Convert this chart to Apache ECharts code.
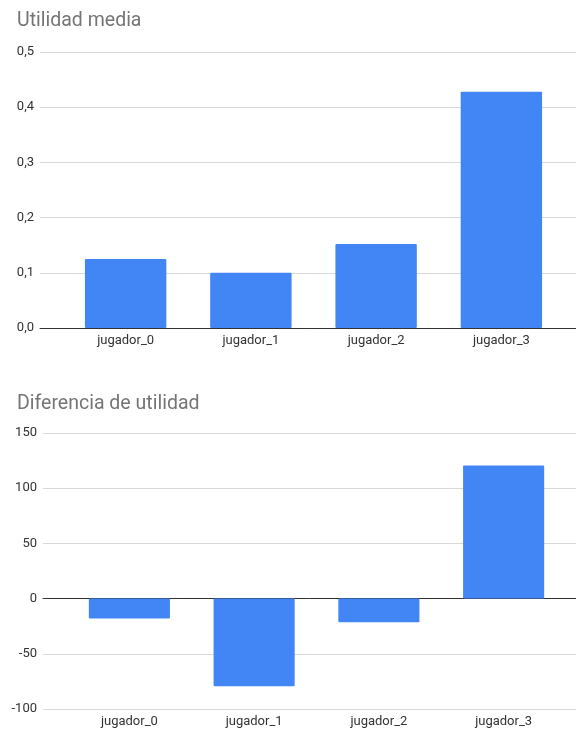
<!DOCTYPE html>
<html>
<head>
<meta charset="utf-8">
<script src="https://cdn.jsdelivr.net/npm/echarts@6/dist/echarts.min.js"></script>
<style>
  html, body { margin: 0; padding: 0; background: #fff; }
  #chart { width: 576px; height: 731px; }
</style>
</head>
<body>
<div id="chart"></div>
<script>
// Players and their results
const players = ['jugador_0', 'jugador_1', 'jugador_2', 'jugador_3'];
const utilidadMedia = [0.125, 0.10, 0.152, 0.428];
const diferenciaUtilidad = [-18, -79.5, -21.5, 120.5];

// Axis ranges and tick steps
const mediaAxis = { min: 0, max: 0.5, interval: 0.1 };
const diferenciaAxis = { min: -100, max: 150, interval: 50 };

const titles = ['Utilidad media', 'Diferencia de utilidad'];

const BAR_COLOR = '#4285F4';
const FONT = 'Roboto, Arial, sans-serif';
const LABEL_STYLE = { color: '#333', fontSize: 13, fontFamily: FONT };
const TITLE_STYLE = { color: '#757575', fontSize: 19.5, fontWeight: 'normal', fontFamily: FONT };
const comma = v => v.toFixed(1).replace('.', ',');

const chart = echarts.init(document.getElementById('chart'));

// Each panel: a wide background grid (gridlines, y labels, zero line)
// and a narrower grid on top that holds the bars and category labels.
const panels = [
  { top: 52, bottom: 403, bgLeft: 40, barLeft: 63, barRight: 12, axis: mediaAxis, fmt: comma, data: utilidadMedia },
  { top: 433, bottom: 22, bgLeft: 43, barLeft: 67, barRight: 10, axis: diferenciaAxis, fmt: v => String(v), data: diferenciaUtilidad }
];

const grid = [], xAxis = [], yAxis = [], series = [];
panels.forEach((p, i) => {
  const bg = grid.length;
  grid.push({ left: p.bgLeft, right: 0, top: p.top, bottom: p.bottom, containLabel: false });
  grid.push({ left: p.barLeft, right: p.barRight, top: p.top, bottom: p.bottom, containLabel: false });

  xAxis.push({
    gridIndex: bg, type: 'category', data: players,
    axisLine: { show: true, onZero: true, lineStyle: { color: '#333', width: 1 } },
    axisTick: { show: false }, axisLabel: { show: false }, splitLine: { show: false }
  });
  xAxis.push({
    gridIndex: bg + 1, type: 'category', data: players,
    axisLine: { show: false, onZero: false }, axisTick: { show: false },
    axisLabel: Object.assign({ margin: 6 }, LABEL_STYLE)
  });

  yAxis.push({
    gridIndex: bg, type: 'value', min: p.axis.min, max: p.axis.max, interval: p.axis.interval,
    axisLine: { show: false }, axisTick: { show: false },
    axisLabel: Object.assign({ margin: 6, formatter: p.fmt }, LABEL_STYLE),
    splitLine: { show: true, lineStyle: { color: '#d9d9d9', width: 1 } }
  });
  yAxis.push({
    gridIndex: bg + 1, type: 'value', min: p.axis.min, max: p.axis.max, interval: p.axis.interval,
    show: false, splitLine: { show: false }
  });

  series.push({
    type: 'bar', xAxisIndex: bg + 1, yAxisIndex: bg + 1, data: p.data,
    barCategoryGap: '35%',
    itemStyle: { color: BAR_COLOR, borderRadius: 1 },
    silent: true, z: 3
  });
});

chart.setOption({
  animation: false,
  backgroundColor: '#fff',
  title: [
    { text: titles[0], left: 12, top: 6, textStyle: TITLE_STYLE },
    { text: titles[1], left: 12, top: 389, textStyle: TITLE_STYLE }
  ],
  grid, xAxis, yAxis, series
});
</script>
</body>
</html>
